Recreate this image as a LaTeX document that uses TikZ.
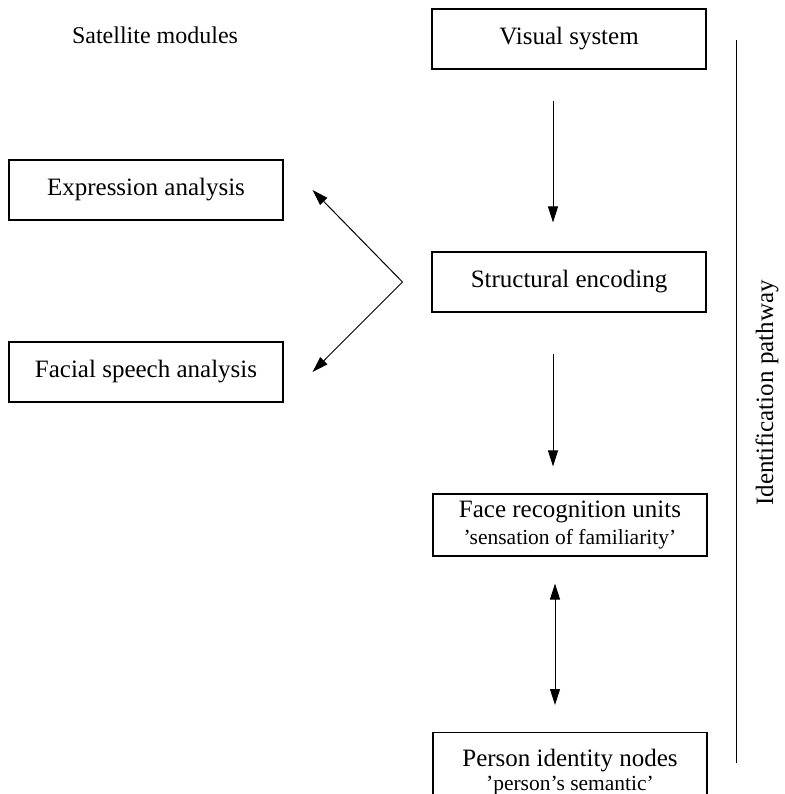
\documentclass[tikz,border=0pt]{standalone}
\usepackage{fontspec}
\setmainfont{Liberation Serif}
\usetikzlibrary{arrows.meta}

\begin{document}
\begin{tikzpicture}[x=1pt,y=-1pt,
	module/.style={shape=rectangle,draw=black,line width=1.1pt,minimum width=274pt,minimum height=60pt,inner sep=0pt,align=center,font=\fontsize{25}{26}\selectfont},
	flow/.style={-{Triangle[length=16pt,width=10pt]},line width=1pt},
	twoway/.style={{Triangle[length=16pt,width=10pt]}-{Triangle[length=16pt,width=10pt]},line width=1pt}]

	\useasboundingbox (0,0) rectangle (784,794);
	\clip (0,0) rectangle (784,794);

	\node (sat) at (155,35) {\fontsize{24}{26}\selectfont Satellite modules};

	\node[module] (vis) at (569,39) {Visual system};
	\node[module] (struct) at (569,282) {Structural encoding};
	\node[module,minimum height=62pt] (fru) at (570,525) {Face recognition units\\[1pt]{\fontsize{21.5}{24}\selectfont 'sensation of familiarity'}};
	\node[module,minimum height=80pt,anchor=north] (pin) at (570,732) {Person identity nodes\\[-2pt]{\fontsize{21.5}{24}\selectfont 'person's semantic'}};

	\node[module] (expr) at (146,190) {Expression analysis};
	\node[module] (fsa) at (146,372) {Facial speech analysis};

	\coordinate (split) at ([xshift=-29]struct.west);
	\coordinate (pwtop) at (736,40);
	\coordinate (pwbot) at (736,763);
	\node[rotate=90,font=\fontsize{25}{26}\selectfont] (pw) at (767,393) {Identification pathway};

	\draw[flow, shorten <=31pt, shorten >=29pt] ([xshift=-16]vis.south) -- ([xshift=-16]struct.north);
	\draw[flow, shorten <=41pt, shorten >=27pt] ([xshift=-16]struct.south) -- ([xshift=-17]fru.north);
	\draw[twoway, shorten <=27pt, shorten >=27pt] ([xshift=-15]fru.south) -- ([xshift=-15]pin.north);
	\draw[flow] (split) -- ([xshift=29]expr.east);
	\draw[flow] (split) -- ([xshift=29]fsa.east);
	\draw[line width=1pt] (pwtop) -- (pwbot);

\end{tikzpicture}
\end{document}
